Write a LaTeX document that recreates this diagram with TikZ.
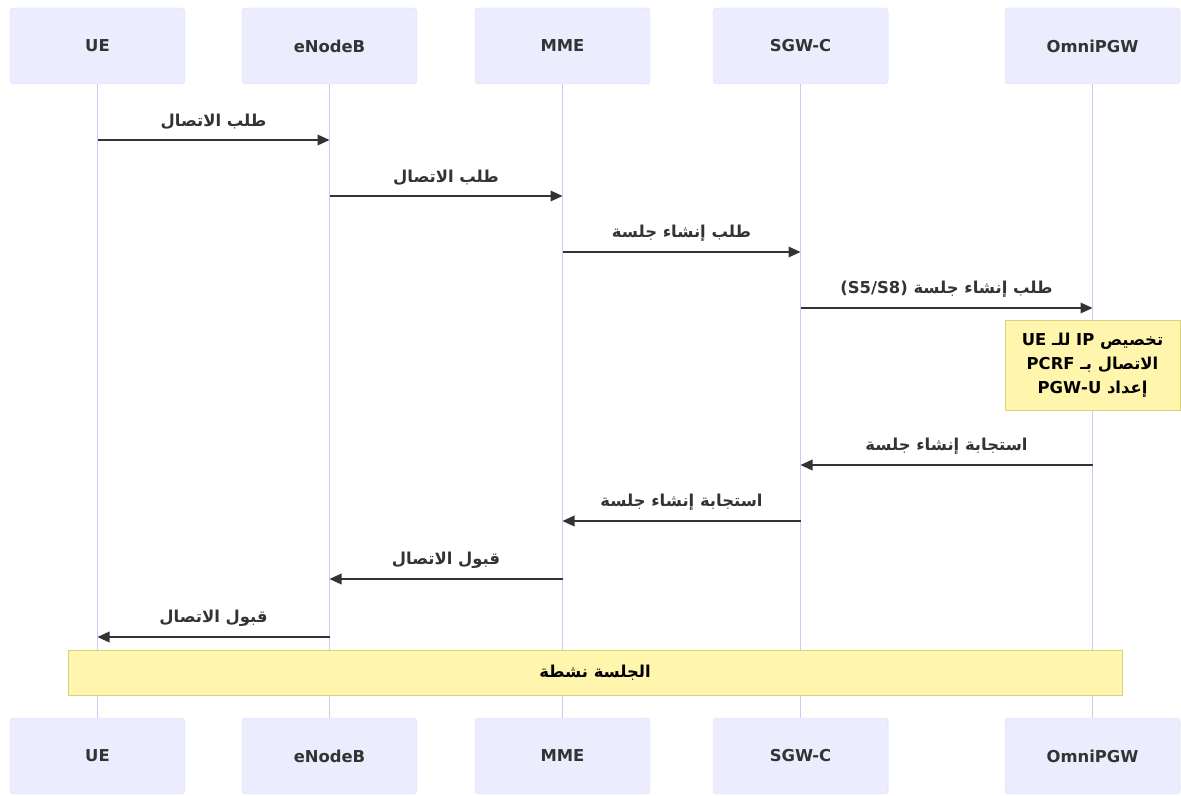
\documentclass[tikz,border=0pt]{standalone}
\usepackage{fontspec}
\setmainfont{DejaVu Sans}
\newfontfamily\arabicfont[Script=Arabic]{DejaVu Sans}
\TeXXeTstate=1
\usetikzlibrary{arrows.meta}
\definecolor{actfill}{HTML}{ECECFF}
\definecolor{actline}{HTML}{DCDCF6}
\definecolor{life}{HTML}{CFC8F0}
\definecolor{ink}{HTML}{333333}
\definecolor{notefill}{HTML}{FFF5AD}
\definecolor{noteline}{HTML}{D8D27E}
\newcommand{\artext}[1]{{\arabicfont\beginR #1\endR}}

\begin{document}
\begin{tikzpicture}[x=.03cm,y=-.03cm,
  actor/.style={draw=actline,fill=actfill,rounded corners=3pt,minimum width=5.25cm,minimum height=2.28cm,text=ink,font=\fontsize{14}{16}\selectfont\bfseries},
  lifeline/.style={draw=life,line width=1.1pt},
  msg/.style={-{Triangle[length=3.6mm,width=3.2mm]},ink,line width=1.2pt},
  lbl/.style={text=ink,font=\fontsize{14}{16}\selectfont\bfseries,inner sep=1pt,above=7pt},
  notebox/.style={draw=noteline,fill=notefill,text=black,align=center,font=\fontsize{14}{20.5}\selectfont\bfseries}]
\useasboundingbox (0,0) rectangle (1181,796);
% actors, top and bottom
\node[actor] (uet) at (97.5,46){UE};
\node[actor] (enbt) at (329.5,46){eNodeB};
\node[actor] (mmet) at (562.5,46){MME};
\node[actor] (sgwt) at (800.5,46){SGW-C};
\node[actor] (pgwt) at (1092.5,46){OmniPGW};
\node[actor] (ueb) at (97.5,756){UE};
\node[actor] (enbb) at (329.5,756){eNodeB};
\node[actor] (mmeb) at (562.5,756){MME};
\node[actor] (sgwb) at (800.5,756){SGW-C};
\node[actor] (pgwb) at (1092.5,756){OmniPGW};
\draw[lifeline] (uet)--(ueb);\draw[lifeline] (enbt)--(enbb);\draw[lifeline] (mmet)--(mmeb);\draw[lifeline] (sgwt)--(sgwb);\draw[lifeline] (pgwt)--(pgwb);
% message rows
\coordinate (m1) at (0,140);\coordinate (m2) at (0,196);\coordinate (m3) at (0,252);\coordinate (m4) at (0,308);
\coordinate (m5) at (0,465);\coordinate (m6) at (0,521);\coordinate (m7) at (0,579);\coordinate (m8) at (0,637);
\draw[msg] (uet|-m1)--node[lbl]{\artext{طلب الاتصال}}(enbt|-m1);
\draw[msg] (enbt|-m2)--node[lbl]{\artext{طلب الاتصال}}(mmet|-m2);
\draw[msg] (mmet|-m3)--node[lbl]{\artext{طلب إنشاء جلسة}}(sgwt|-m3);
\draw[msg] (sgwt|-m4)--node[lbl]{\artext{طلب إنشاء جلسة \beginL(S5/S8)\endL}}(pgwt|-m4);
\node[notebox,minimum width=5.25cm,minimum height=2.7cm] (alloc) at (1092.5,365){\artext{تخصيص \beginL IP\endL{} للـ \beginL UE\endL}\\\artext{الاتصال بـ \beginL PCRF\endL}\\\artext{إعداد \beginL PGW-U\endL}};
\draw[msg] (pgwt|-m5)--node[lbl]{\artext{استجابة إنشاء جلسة}}(sgwt|-m5);
\draw[msg] (sgwt|-m6)--node[lbl]{\artext{استجابة إنشاء جلسة}}(mmet|-m6);
\draw[msg] (mmet|-m7)--node[lbl]{\artext{قبول الاتصال}}(enbt|-m7);
\draw[msg] (enbt|-m8)--node[lbl]{\artext{قبول الاتصال}}(uet|-m8);
\node[notebox,minimum width=31.62cm,minimum height=1.35cm] (active) at (595,672.5){\artext{الجلسة نشطة}};
\end{tikzpicture}
\end{document}
